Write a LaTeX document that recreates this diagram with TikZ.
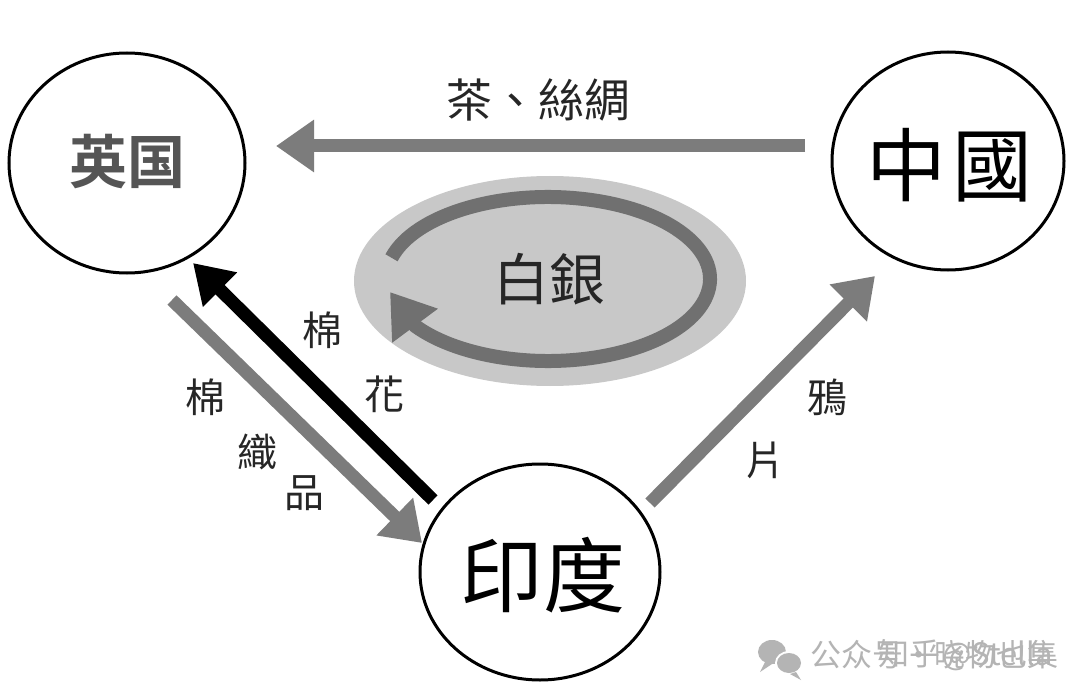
\documentclass[tikz,border=0pt]{standalone}
\usepackage{fontspec}
\setmainfont{Noto Sans CJK TC}
\newfontfamily\tcfont{Noto Sans CJK TC}
\newfontfamily\scfont{Noto Sans CJK SC}
\newfontfamily\scbold{Noto Sans CJK SC Bold}
\usetikzlibrary{arrows.meta,shapes.geometric}
\newcommand\setfs[1]{\fontsize{#1}{#1}\selectfont}
\definecolor{arrowgray}{HTML}{7C7C7C}
\definecolor{ringgray}{HTML}{707070}
\definecolor{halogray}{HTML}{C8C8C8}
\definecolor{textdark}{HTML}{262626}
\definecolor{ukgray}{HTML}{555555}
\definecolor{wmgray}{HTML}{B4B4B4}
\tikzset{
  country/.style={ellipse, draw=black, line width=3pt, fill=white, inner sep=0pt},
  trade/.style={line width=13pt, draw=arrowgray, -{Triangle[length=38pt,width=50pt]}},
  tradeblack/.style={line width=13pt, draw=black, -{Triangle[length=38pt,width=46pt]}},
  lbl/.style={text=textdark, font=\tcfont\setfs{40}, inner sep=0pt},
  ring/.style={line width=14pt, draw=ringgray, -{Triangle[length=42pt,width=54pt]}},
  wm/.style={text=wmgray, font=\scfont\setfs{31}, inner sep=0pt, anchor=west}
}
\begin{document}
\begin{tikzpicture}[x=1pt,y=-1pt]
\useasboundingbox (0,0) rectangle (1080,698);
\fill[white] (0,0) rectangle (1080,698);

% silver cycle
\node[ellipse, fill=halogray, minimum width=392pt, minimum height=210pt, inner sep=0pt] (halo) at (550,281) {};
\coordinate (ringc) at (548,279);
\coordinate (ringtip) at (390,292);
\draw[ring] (ringc) ++(165:162pt and 82pt) arc[start angle=165, end angle=-145, x radius=162pt, y radius=82pt] -- (ringtip);
\node[text=textdark, font=\tcfont\setfs{56}, inner sep=0pt] (silver) at (549,279) {白銀};

% countries
\node[country, minimum width=236pt, minimum height=220pt] (uk) at (127,163) {};
\node[text=ukgray, font=\scbold\setfs{58}, inner sep=0pt] (uklbl) at (127,162) {英国};
\node[country, minimum width=232pt, minimum height=218pt] (china) at (948,161) {};
\node[text=black, font=\tcfont\setfs{80}, inner sep=0pt] (chinalbl) at (949,165) {中\hspace{6pt}國};
\node[country, minimum width=240pt, minimum height=216pt] (india) at (540,572) {};
\node[text=black, font=\tcfont\setfs{82}, inner sep=0pt] (indialbl) at (543,575) {印\hspace{2pt}度};

% connector end points
\coordinate (teaS) at (805,146);
\coordinate (teaE) at (276,146);
\coordinate (cotS) at (433,500);
\coordinate (cotE) at (193,263);
\coordinate (clothS) at (172,300);
\coordinate (clothE) at (422,543);
\coordinate (opS) at (650,503);
\coordinate (opE) at (875,276);

\draw[trade] (teaS) -- (teaE);
\draw[tradeblack] (cotS) -- (cotE);
\draw[trade] (clothS) -- (clothE);
\draw[trade] (opS) -- (opE);

% labels
\node[lbl, font=\tcfont\setfs{46}] (tealbl) at (538,100) {茶、絲綢};
\node[lbl] (c1) at (322,330) {棉};
\node[lbl] (c2) at (384,394) {花};
\node[lbl] (t1) at (205,397) {棉};
\node[lbl] (t2) at (257,452) {織};
\node[lbl] (t3) at (304,493) {品};
\node[lbl] (o1) at (827,397) {鴉};
\node[lbl] (o2) at (765,460) {片};

% watermark
\fill[wmgray] (772,652) circle[x radius=14pt, y radius=12pt];
\fill[wmgray] (765,662) -- (760,672) -- (772,664) -- cycle;
\fill[white] (789,663) circle[x radius=14pt, y radius=12pt];
\fill[wmgray] (789,663) circle[x radius=12pt, y radius=10pt];
\fill[wmgray] (796,672) -- (801,680) -- (790,674) -- cycle;
\node[wm] (wm1) at (810,655) {公众号·晓物也集};
\node[wm] (wm2) at (878,655) {知乎\hspace{2pt}@Stella};
\end{tikzpicture}
\end{document}
